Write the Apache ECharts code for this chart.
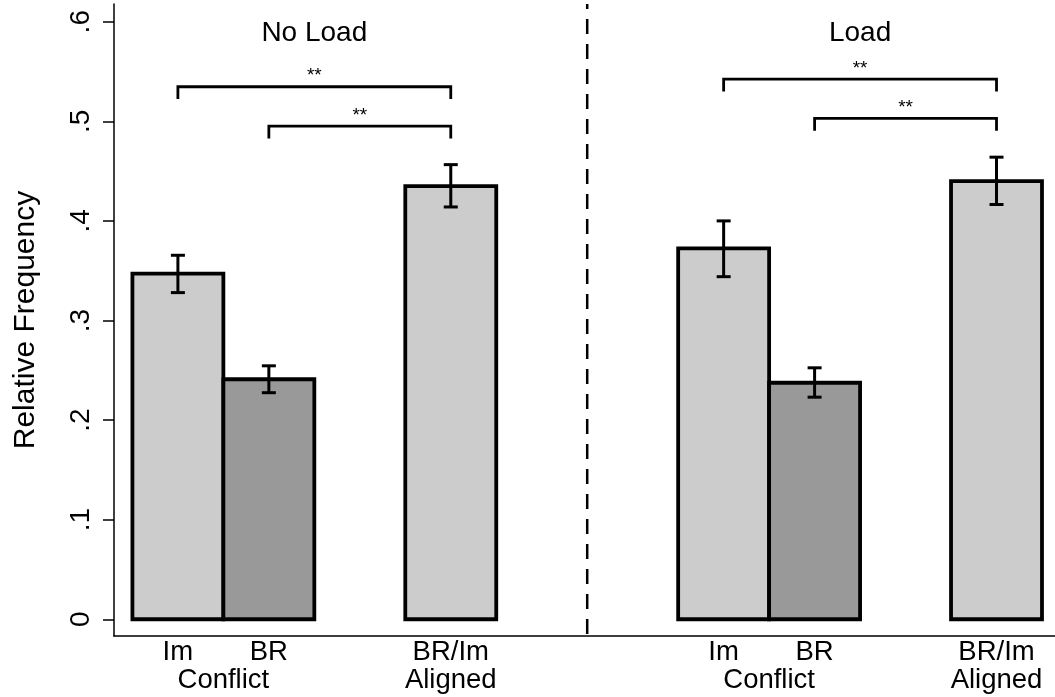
<!DOCTYPE html>
<html>
<head>
<meta charset="utf-8">
<script src="https://cdn.jsdelivr.net/npm/echarts@6/dist/echarts.min.js"></script>
<style>
html,body{margin:0;padding:0;background:#fff;}
#chart{width:1055px;height:697px;}
</style>
</head>
<body>
<div id="chart"></div>
<script>
// ---- data ----
const groups = ['No Load', 'Load'];
const conditions = ['Im', 'BR', 'BR/Im'];
const conditionTypes = ['Conflict', 'Conflict', 'Aligned'];
const noLoadMean = [0.347, 0.241, 0.435];
const noLoadLow  = [0.328, 0.2275, 0.414];
const noLoadHigh = [0.3655, 0.2545, 0.4565];
const loadMean = [0.3725, 0.2375, 0.440];
const loadLow  = [0.344, 0.223, 0.4165];
const loadHigh = [0.400, 0.2525, 0.464];
// significance brackets: [from condition index, to condition index, height]
const noLoadBrackets = [[0, 2, 0.5347], [1, 2, 0.4952]];
const loadBrackets = [[0, 2, 0.5424], [1, 2, 0.503]];
const bracketLabel = '**';
const yTicks = [0, 0.1, 0.2, 0.3, 0.4, 0.5, 0.6];
const yTickLabels = ['0', '.1', '.2', '.3', '.4', '.5', '.6'];

// ---- layout helpers ----
const slotInGroup = [0, 1, 3];
const groupStride = 6;
const slotOf = (g, i) => g * groupStride + slotInGroup[i];
const FONT = '"Liberation Sans", Arial, Helvetica, sans-serif';
const Y_MIN = -0.0168, Y_MAX = 0.6178;

const means = [noLoadMean, loadMean], lows = [noLoadLow, loadLow], highs = [noLoadHigh, loadHigh];
const brackets = [noLoadBrackets, loadBrackets];

const barData = [], errData = [], brData = [], titleData = [];
const topLabelVals = [], topLabelMap = {};
const botLabelVals = [], botLabelMap = {};
groups.forEach((gName, g) => {
  conditions.forEach((c, i) => {
    const s = slotOf(g, i);
    barData.push([s, means[g][i], c === 'BR' ? 1 : 0]);
    errData.push([s, lows[g][i], highs[g][i]]);
    topLabelVals.push(s); topLabelMap[s] = c;
  });
  const conflictPos = (slotOf(g, 0) + slotOf(g, 1)) / 2;
  botLabelVals.push(conflictPos); botLabelMap[conflictPos] = conditionTypes[0];
  const alignedPos = slotOf(g, 2);
  botLabelVals.push(alignedPos); botLabelMap[alignedPos] = conditionTypes[2];
  brackets[g].forEach(b => brData.push([slotOf(g, b[0]), slotOf(g, b[1]), b[2]]));
  titleData.push([(slotOf(g, 0) + slotOf(g, 2)) / 2, g]);
});
const separatorX = (slotOf(0, 2) + slotOf(1, 0)) / 2;

const chart = echarts.init(document.getElementById('chart'), null, {renderer: 'canvas'});
const option = {
  animation: false,
  backgroundColor: '#ffffff',
  grid: {left: 114, right: 0, top: 4, bottom: 61, containLabel: false},
  xAxis: [{
    type: 'value', min: -0.7025, max: 9.643,
    axisLine: {show: true, onZero: false, lineStyle: {color: '#000', width: 1.5}},
    axisTick: {show: false}, splitLine: {show: false},
    axisLabel: {
      customValues: topLabelVals, formatter: v => topLabelMap[v] || '',
      fontFamily: FONT, fontSize: 27.5, color: '#000', margin: 3, lineHeight: 27
    }
  }, {
    type: 'value', min: -0.7025, max: 9.643, position: 'bottom',
    axisLine: {show: false, onZero: false}, axisTick: {show: false}, splitLine: {show: false},
    axisLabel: {
      customValues: botLabelVals, formatter: v => botLabelMap[v] || '',
      fontFamily: FONT, fontSize: 27.5, color: '#000', margin: 31, lineHeight: 27
    }
  }],
  yAxis: {
    type: 'value', min: Y_MIN, max: Y_MAX,
    name: 'Relative Frequency', nameLocation: 'middle', nameGap: 73,
    nameTextStyle: {fontFamily: FONT, fontSize: 30, color: '#000'},
    axisLine: {show: true, onZero: false, lineStyle: {color: '#000', width: 1.5}},
    axisTick: {show: true, customValues: yTicks, length: 11, lineStyle: {color: '#000', width: 1.5}},
    axisLabel: {
      customValues: yTicks, rotate: 90, margin: 19,
      formatter: v => { const k = yTicks.findIndex(t => Math.abs(t - v) < 1e-9); return k >= 0 ? yTickLabels[k] : ''; },
      fontFamily: FONT, fontSize: 28, color: '#000'
    },
    splitLine: {show: false}
  },
  series: [
    {
      type: 'custom', name: 'separator', xAxisIndex: 0, data: [[separatorX]],
      renderItem: (params, api) => {
        const x = api.value(0);
        const a = api.coord([x, Y_MAX]), b = api.coord([x, Y_MIN]);
        return {type: 'line', shape: {x1: a[0], y1: a[1], x2: b[0], y2: b[1]},
          style: {stroke: '#000', lineWidth: 2.5, lineDash: [15, 10], lineDashOffset: 10}};
      }
    },
    {
      type: 'custom', name: 'bars', xAxisIndex: 0, data: barData,
      renderItem: (params, api) => {
        const x = api.value(0), v = api.value(1), c = api.value(2);
        const p0 = api.coord([x - 0.5, v]), p1 = api.coord([x + 0.5, 0]);
        return {type: 'rect', shape: {x: p0[0], y: p0[1], width: p1[0] - p0[0], height: p1[1] - p0[1]},
          style: {fill: c === 1 ? '#999999' : '#cccccc', stroke: '#000', lineWidth: 3.8}};
      }
    },
    {
      type: 'custom', name: 'errors', xAxisIndex: 0, data: errData, z: 3,
      renderItem: (params, api) => {
        const x = api.value(0);
        const lo = api.coord([x, api.value(1)]), hi = api.coord([x, api.value(2)]);
        const cap = 7;
        const st = {stroke: '#000', lineWidth: 3};
        return {type: 'group', children: [
          {type: 'line', shape: {x1: lo[0], y1: lo[1], x2: hi[0], y2: hi[1]}, style: st},
          {type: 'line', shape: {x1: lo[0] - cap, y1: lo[1], x2: lo[0] + cap, y2: lo[1]}, style: st},
          {type: 'line', shape: {x1: hi[0] - cap, y1: hi[1], x2: hi[0] + cap, y2: hi[1]}, style: st}
        ]};
      }
    },
    {
      type: 'custom', name: 'brackets', xAxisIndex: 0, data: brData, z: 3,
      renderItem: (params, api) => {
        const a = api.coord([api.value(0), api.value(2)]), b = api.coord([api.value(1), api.value(2)]);
        const drop = 12.3;
        return {type: 'group', children: [
          {type: 'polyline', shape: {points: [[a[0], a[1] + drop], [a[0], a[1]], [b[0], b[1]], [b[0], b[1] + drop]]},
            style: {stroke: '#000', lineWidth: 2.8, fill: null}},
          {type: 'text', x: (a[0] + b[0]) / 2, y: a[1] - 1,
            style: {text: bracketLabel, fontFamily: FONT, fontSize: 19, fill: '#000', align: 'center', verticalAlign: 'bottom'}}
        ]};
      }
    },
    {
      type: 'custom', name: 'titles', xAxisIndex: 0, data: titleData, z: 3,
      renderItem: (params, api) => {
        const p = api.coord([api.value(0), Y_MAX]);
        return {type: 'text', x: p[0], y: p[1] + 29,
          style: {text: groups[api.value(1)], fontFamily: FONT, fontSize: 28, fill: '#000', align: 'center', verticalAlign: 'middle'}};
      }
    }
  ]
};
chart.setOption(option);
</script>
</body>
</html>
